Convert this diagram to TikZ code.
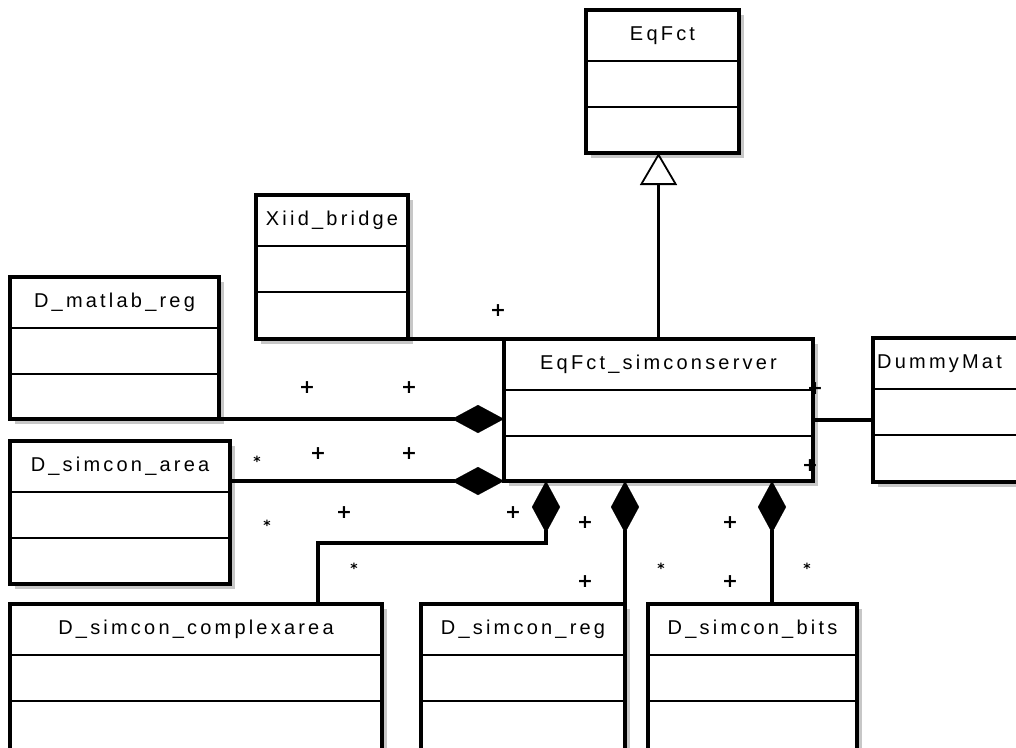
\documentclass[tikz,border=0pt]{standalone}
\usepackage{fontspec}
\usetikzlibrary{arrows.meta,calc}
\newfontfamily\umlfont[LetterSpace=16]{Liberation Sans}
\newfontfamily\markfont{DejaVu Sans}
\tikzset{
  clsbox/.style={draw=black, line width=3.2pt, fill=white, rectangle, inner sep=0pt, outer sep=0pt},
  divider/.style={line width=2.4pt},
  clstitle/.style={font=\umlfont\fontsize{20}{22}\selectfont, inner sep=0pt},
  conn/.style={line width=3.2pt},
  comp/.style={-{Diamond[length=52pt,width=28pt,line width=0.1pt]}},
  gen/.style={-{Triangle[open,length=32pt,width=37pt,line width=1.8pt]}},
  plus/.style={font=\markfont\bfseries\fontsize{19}{20}\selectfont, inner sep=0pt},
  star/.style={font=\markfont\bfseries\fontsize{14}{14}\selectfont, inner sep=0pt},
  shade/.style={fill=black!22},
}
% name, left, top, right, bottom, title
\newcommand\umlcls[6]{%
  \fill[shade] (#2+5,#3+5) rectangle (#4+5,#5+5);
  \node[clsbox, minimum width=#4-#2, minimum height=#5-#3, anchor=north west] (#1) at (#2,#3) {};
  \draw[divider] ($(#1.north west)+(0,51)$) -- ($(#1.north east)+(0,51)$);
  \draw[divider] ($(#1.north west)+(0,97)$) -- ($(#1.north east)+(0,97)$);
  \node[clstitle] (#1-t) at ($(#1.north)+(0,25.5)$) {#6};
}
\begin{document}
\begin{tikzpicture}[x=1pt,y=-1pt]
\useasboundingbox (0,0) rectangle (1016,747);
\clip (0,0) rectangle (1016,747);
\fill[white] (0,0) rectangle (1016,747);

\umlcls{eq}{586}{10}{739}{153}{EqFct}
\umlcls{xiid}{256}{195}{408}{339}{Xiid\_bridge}
\umlcls{matlab}{10}{277}{219}{419}{D\_matlab\_reg}
\umlcls{area}{10}{441}{230}{584}{D\_simcon\_area}
\umlcls{sim}{504}{339}{813}{481}{EqFct\_simconserver}
% DummyMat (clipped at the right edge)
\fill[shade] (878,343) rectangle (1100,487);
\node[clsbox, minimum width=220, minimum height=144, anchor=north west] (dummy) at (873,338) {};
\draw[divider] ($(dummy.north west)+(0,51)$) -- ($(dummy.north east)+(0,51)$);
\draw[divider] ($(dummy.north west)+(0,97)$) -- ($(dummy.north east)+(0,97)$);
\node[clstitle, anchor=west] (dummy-t) at ($(dummy.north west)+(4,25.5)$) {DummyMat};

\umlcls{cx}{10}{604}{382}{800}{D\_simcon\_complexarea}
\umlcls{reg}{421}{604}{625}{800}{D\_simcon\_reg}
\umlcls{bits}{648}{604}{857}{800}{D\_simcon\_bits}

% generalization
\draw[conn, gen] (sim.north) -- (sim.north |- eq.south);
% Xiid association
\draw[conn] (xiid.south east) -- (sim.north west);
% compositions
\draw[conn, comp] (matlab.south east) -- (sim.west |- matlab.south east);
\draw[conn, comp] (area.east |- sim.south west) -- (sim.south west);
\coordinate (cxc) at ($(sim.south west)+(42,0)$);
\coordinate (cxp) at ($(cx.north west)+(308,0)$);
\draw[conn, comp] (cxp) |- ($(cxc)+(0,62)$) -- (cxc);
\draw[conn, comp] (reg.north east) -- (reg.north east |- sim.south);
\coordinate (bitsp) at ($(bits.north west)+(124,0)$);
\draw[conn, comp] (bitsp) -- (bitsp |- sim.south);
% DummyMat association
\draw[conn] ($(sim.east)+(0,10)$) -- ($(dummy.west)+(0,10)$);

% multiplicities
\node[plus] (m1) at (498,311) {+};
\node[plus] (m2) at (307,388) {+};
\node[plus] (m3) at (409,388) {+};
\node[star] (m4) at (257,461) {*};
\node[plus] (m5) at (318,454) {+};
\node[plus] (m6) at (409,454) {+};
\node[star] (m7) at (267,525) {*};
\node[plus] (m8) at (344,513) {+};
\node[plus] (m9) at (513,513) {+};
\node[star] (m10) at (354,568) {*};
\node[plus] (m11) at (585,523) {+};
\node[plus] (m12) at (585,582) {+};
\node[star] (m13) at (661,568) {*};
\node[plus] (m14) at (730,523) {+};
\node[plus] (m15) at (730,582) {+};
\node[star] (m16) at (807,568) {*};
\node[plus] (m17) at (815,389) {+};
\node[plus] (m18) at (810,466) {+};
\end{tikzpicture}
\end{document}
